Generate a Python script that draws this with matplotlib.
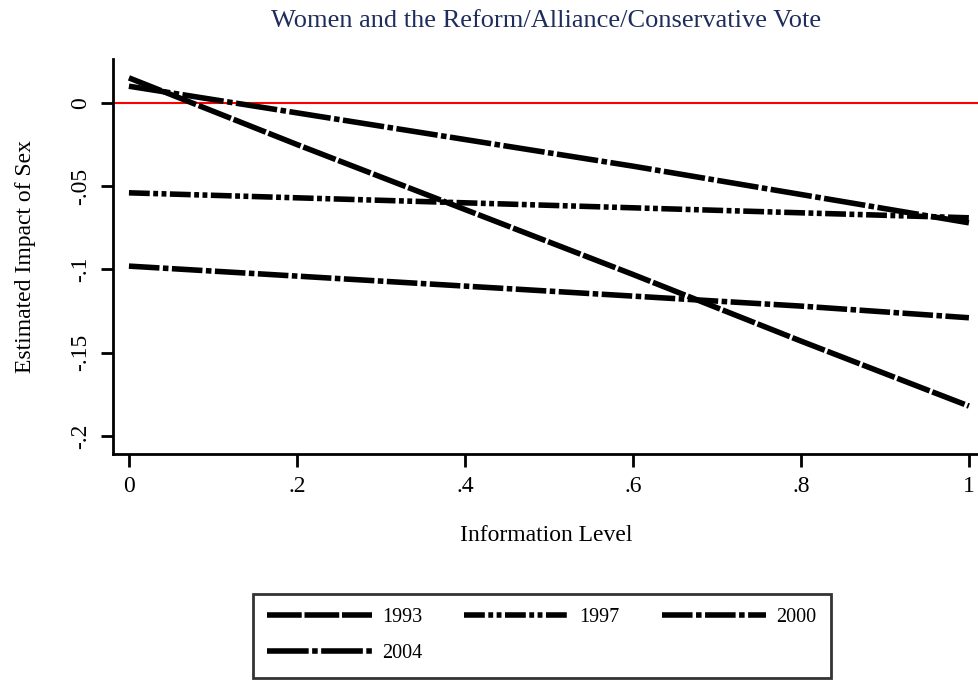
import numpy as np
import matplotlib
matplotlib.use("Agg")
import matplotlib.pyplot as plt

plt.rcParams['font.family'] = ['Liberation Serif', 'DejaVu Serif']
plt.rcParams['lines.scale_dashes'] = False

# data
info = [0, 0.2, 0.4, 0.6, 0.8, 1.0]
y1993 = [0.015, -0.025, -0.064, -0.103, -0.143, -0.182]
y1997 = [-0.054, -0.057, -0.060, -0.063, -0.066, -0.069]
y2000 = [-0.098, -0.104, -0.110, -0.116, -0.122, -0.129]
y2004 = [0.010, -0.006, -0.022, -0.038, -0.055, -0.072]
years = ["1993", "1997", "2000", "2004"]

xticks = [0, 0.2, 0.4, 0.6, 0.8, 1.0]
xticklabels = ["0", ".2", ".4", ".6", ".8", "1"]
yticks = [0, -0.05, -0.1, -0.15, -0.2]
yticklabels = ["0", "-.05", "-.1", "-.15", "-.2"]

fig = plt.figure(figsize=(9.79, 6.81), dpi=100)
ax = fig.add_axes([0.1154, 0.3333, 0.8846, 0.580])

lw = 4.0
ax.axhline(0, color='red', lw=1.5, zorder=1)
l1, = ax.plot(info, y1993, color='black', lw=lw, dashes=(25, 2), dash_capstyle='butt')
l2, = ax.plot(info, y1997, color='black', lw=lw, dashes=(15, 2.5, 3.5, 2.5, 3.5, 2.5), dash_capstyle='butt')
l3, = ax.plot(info, y2000, color='black', lw=lw, dashes=(22, 2.5, 4, 2.5), dash_capstyle='butt')
l4, = ax.plot(info, y2004, color='black', lw=lw, dashes=(30, 2.5, 4, 2.5), dash_capstyle='butt')

ax.set_xlim(-0.019, 1.012)
ax.set_ylim(-0.2108, 0.0263)
ax.spines['top'].set_visible(False)
ax.spines['right'].set_visible(False)
ax.spines['left'].set_linewidth(2)
ax.spines['bottom'].set_linewidth(2)

ax.set_xticks(xticks)
ax.set_xticklabels(xticklabels, fontsize=17)
ax.set_yticks(yticks)
ax.set_yticklabels(yticklabels, fontsize=17, rotation=90, va='center')
ax.tick_params(length=9, width=2)
ax.tick_params(axis='x', pad=7)
ax.tick_params(axis='y', pad=7)

ax.set_xlabel("Information Level", fontsize=17, labelpad=20)
ax.set_ylabel("Estimated Impact of Sex", fontsize=17, labelpad=24)
fig.text(546 / 979, 1 - 21 / 681, "Women and the Reform/Alliance/Conservative Vote",
         ha='center', va='center', fontsize=19, color='#1f2d5c')

# order so rows read 1993 1997 2000 / 2004
leg = fig.legend([l1, l4, l2, l3], ["1993", "2004", "1997", "2000"], loc='upper left',
                 bbox_to_anchor=(253 / 979, 1 - 594 / 681), ncol=3,
                 fontsize=14.5, handlelength=5.2, handletextpad=0.5,
                 columnspacing=2.1, frameon=True, fancybox=False,
                 borderpad=0.7, labelspacing=0.85, borderaxespad=0)
leg.get_frame().set_edgecolor('black')
leg.get_frame().set_linewidth(2)

fig.savefig("out.png", dpi=100)
